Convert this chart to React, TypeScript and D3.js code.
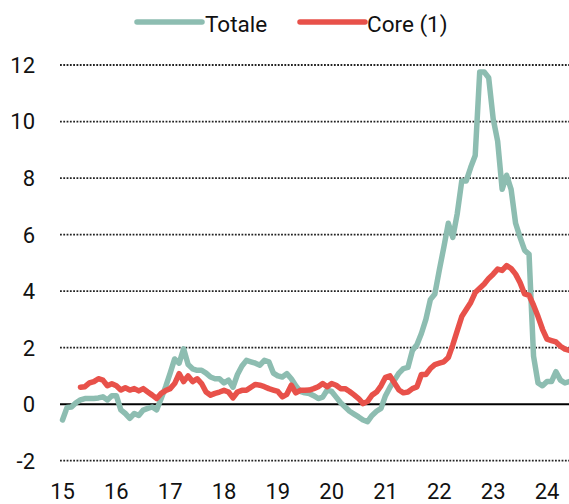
import React from "react";
import * as d3 from "d3";

// monthly yoy % values
const totale = [
  -0.56, -0.12, -0.1, 0.05, 0.15, 0.2, 0.2, 0.2, 0.22, 0.26, 0.15, 0.3,
  0.3, -0.2, -0.33, -0.5, -0.33, -0.4, -0.21, -0.15, -0.1, -0.2, 0.2, 0.62,
  1.1, 1.6, 1.45, 1.96, 1.4, 1.25, 1.2, 1.2, 1.1, 0.96, 0.9, 0.9,
  0.75, 0.85, 0.6, 1.05, 1.35, 1.55, 1.5, 1.45, 1.38, 1.55, 1.5, 1.1,
  1.0, 0.96, 1.08, 0.9, 0.65, 0.45, 0.4, 0.38, 0.3, 0.2, 0.25, 0.5,
  0.45, 0.25, 0.05, -0.1, -0.25, -0.35, -0.45, -0.56, -0.62, -0.4, -0.25, -0.15,
  0.3, 0.6, 0.85, 1.1, 1.26, 1.3, 1.9, 2.1, 2.5, 3.0, 3.7, 3.9,
  4.75, 5.55, 6.4, 5.9, 6.75, 7.9, 7.9, 8.38, 8.8, 11.75, 11.75, 11.55,
  10.1, 9.3, 7.6, 8.1, 7.6, 6.4, 5.9, 5.45, 5.3, 1.7, 0.75, 0.65,
  0.8, 0.8, 1.15, 0.85, 0.75, 0.8,
];
const totaleStart = [2015, 0]; // Jan 2015

const core = [
  0.6, 0.62, 0.75, 0.8, 0.9, 0.85, 0.65, 0.72,
  0.65, 0.5, 0.58, 0.5, 0.55, 0.47, 0.55, 0.43, 0.32, 0.2, 0.38, 0.48,
  0.55, 0.73, 1.08, 0.8, 1.0, 0.8, 0.9, 0.73, 0.43, 0.32, 0.38, 0.43,
  0.49, 0.43, 0.22, 0.43, 0.49, 0.49, 0.6, 0.7, 0.67, 0.62, 0.55, 0.5,
  0.45, 0.26, 0.35, 0.67, 0.4, 0.49, 0.49, 0.5, 0.55, 0.62, 0.73, 0.62,
  0.73, 0.67, 0.55, 0.55, 0.45, 0.33, 0.2, 0.02, 0.1, 0.32, 0.43, 0.65,
  0.95, 1.0, 0.75, 0.5, 0.4, 0.43, 0.55, 0.61, 1.05, 1.05, 1.26, 1.4,
  1.45, 1.5, 1.65, 2.1, 2.6, 3.1, 3.35, 3.6, 3.95, 4.1, 4.25, 4.45,
  4.6, 4.78, 4.73, 4.9, 4.8, 4.6, 4.3, 3.9, 3.85, 3.5, 3.1, 2.65,
  2.3, 2.25, 2.2, 2.05, 1.95, 1.9,
];
const coreStart = [2015, 4]; // May 2015

const years = [2015, 2016, 2017, 2018, 2019, 2020, 2021, 2022, 2023, 2024];
const yTicks = [-2, 0, 2, 4, 6, 8, 10, 12];

const W = 569;
const H = 504;
const FONT = "Roboto, 'Noto Sans', sans-serif";
const TEAL = "#8dbdb1";
const RED = "#e8514a";

const toPoints = (vals: number[], start: number[]) =>
  vals.map((v, i) => ({ t: start[0] + (start[1] + i) / 12, v }));

export default function App() {
  const x = d3.scaleLinear().domain([2015, 2024]).range([62.5, 547]);
  const y = d3.scaleLinear().domain([-2, 12]).range([460.7, 65]);

  const line = d3
    .line<{ t: number; v: number }>()
    .x((d) => x(d.t))
    .y((d) => y(d.v));

  const gridX0 = 60;

  return (
    <>
      <style>{`body{margin:0}`}</style>
      <svg width={W} height={H} style={{ display: "block" }} fontFamily={FONT}>
        {/* legend */}
        <g>
          <line x1={137} x2={202} y1={22} y2={22} stroke={TEAL} strokeWidth={5.5} strokeLinecap="round" />
          <text x={205} y={31.5} fontSize={22.5} fill="#111">Totale</text>
          <line x1={300} x2={365} y1={22} y2={22} stroke={RED} strokeWidth={5.5} strokeLinecap="round" />
          <text x={367} y={31.5} fontSize={22.5} fill="#111">Core (1)</text>
        </g>

        {/* grid */}
        {yTicks.map((t) =>
          t === 0 ? null : (
            <line
              key={t}
              x1={gridX0}
              x2={W}
              y1={y(t)}
              y2={y(t)}
              stroke="#222"
              strokeWidth={1.8}
              strokeDasharray="1.8 1.5"
            />
          )
        )}
        <line x1={gridX0} x2={W} y1={y(0)} y2={y(0)} stroke="#000" strokeWidth={2} />

        {/* y labels */}
        {yTicks.map((t) => (
          <text key={t} x={35} y={y(t)} dy="0.36em" textAnchor="end" fontSize={22} fill="#111">
            {t}
          </text>
        ))}

        {/* x labels */}
        {years.map((yr) => (
          <text key={yr} x={x(yr)} y={499} textAnchor="middle" fontSize={22} fill="#111">
            {String(yr).slice(2)}
          </text>
        ))}

        {/* series */}
        <path
          d={line(toPoints(totale, totaleStart)) || ""}
          fill="none"
          stroke={TEAL}
          strokeWidth={5.5}
          strokeLinejoin="round"
          strokeLinecap="round"
        />
        <path
          d={line(toPoints(core, coreStart)) || ""}
          fill="none"
          stroke={RED}
          strokeWidth={5.5}
          strokeLinejoin="round"
          strokeLinecap="round"
        />
      </svg>
    </>
  );
}
